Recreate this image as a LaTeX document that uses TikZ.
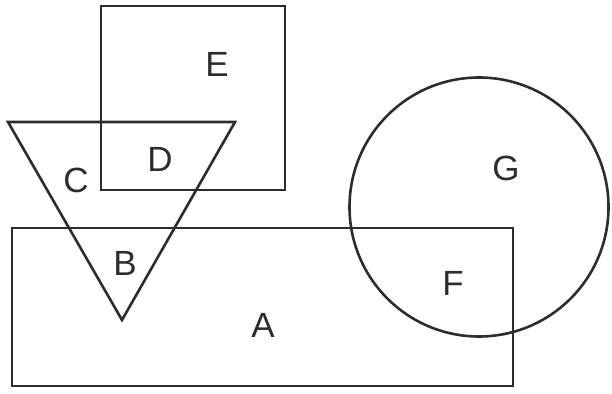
\documentclass[tikz,border=0pt]{standalone}
\usepackage{fontspec}
\setmainfont{Liberation Sans}
\usetikzlibrary{positioning, calc}
\definecolor{outline}{RGB}{45, 45, 45}

\begin{document}
\begin{tikzpicture}[x=1pt, y=-1pt, every node/.style={font=\fontsize{35}{40}\selectfont, text=outline}]
    \tikzstyle{outlined} = [draw=outline, line width=2.6pt, line join=miter]
    \useasboundingbox (0,0) rectangle (612,393);

    % Shapes
    \draw [outlined] (101,6) rectangle (285,190);
    \draw [outlined] (8,122) -- (235,122) -- (122,320) -- cycle;
    \draw [outlined] (12,228) rectangle (513,386);
    \draw [outlined] (479,207) circle [radius=129.5];

    % Labels
    \node (labE) at (217,64) {E};
    \node (labD) at (160,159) {D};
    \node (labC) at (76,180) {C};
    \node (labB) at (125,263) {B};
    \node (labG) at (506,168) {G};
    \node (labF) at (453,283) {F};
    \node (labA) at (263,325) {A};
\end{tikzpicture}
\end{document}
